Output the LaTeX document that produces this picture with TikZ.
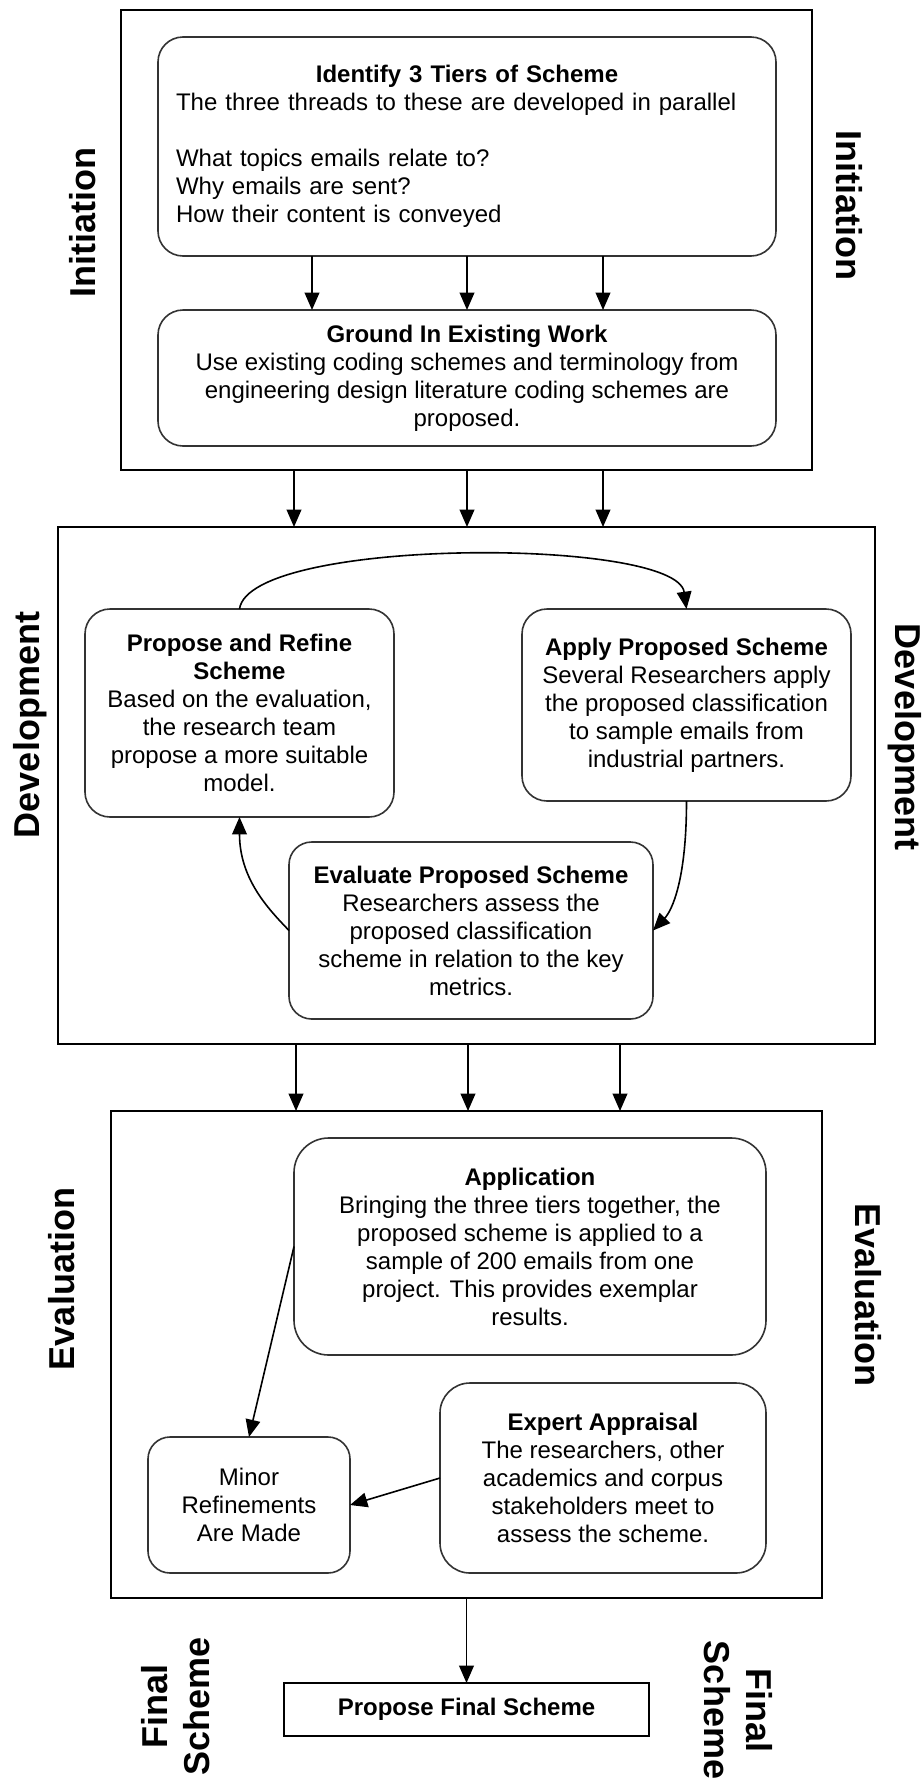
\documentclass[tikz,border=0pt]{standalone}
\usepackage{fontspec}
\setmainfont{Liberation Sans}
\usetikzlibrary{arrows.meta}
\begin{document}
\begin{tikzpicture}[x=0.75pt,y=-0.75pt,
  every node/.style={font=\fontsize{18}{21}\selectfont, inner sep=0pt, outer sep=0pt},
  stage/.style={draw=black, line width=1.5pt, rectangle},
  rbox/.style={draw=black!80, line width=1.2pt, fill=white, rectangle, rounded corners=#1, align=center},
  rbox/.default=18.75pt,
  phase/.style={font=\fontsize{27}{31.5}\selectfont\bfseries, align=center},
  arr/.style={draw=black, line width=1.2pt, -{Triangle[length=13pt,width=11pt]}},
]
\useasboundingbox (0,0) rectangle (924,1778);
\clip (0,0) rectangle (924,1778);

% the three stage frames
\node[stage, minimum width=518.25pt, minimum height=345pt] (init) at (466.5,240) {};
\node[stage, minimum width=612.75pt, minimum height=387.75pt] (dev) at (466.5,785.5) {};
\node[stage, minimum width=533.25pt, minimum height=365.25pt] (eval) at (466.5,1354.5) {};

% Initiation
\node[rbox, minimum width=463.5pt, minimum height=164.25pt, text width=436.5pt, align=left] (identify) at (467,146.5)
  {\makebox[\linewidth][c]{\bfseries Identify 3 Tiers of Scheme}\\
   The three threads to these are developed in parallel\\[21pt]
   What topics emails relate to?\\
   Why emails are sent?\\
   How their content is conveyed};
\node[rbox, minimum width=463.5pt, minimum height=102pt] (ground) at (467,378)
  {\textbf{Ground In Existing Work}\\
   Use existing coding schemes and terminology from\\
   engineering design literature coding schemes are\\
   proposed.};

% Development
\node[rbox, minimum width=231.75pt, minimum height=156pt] (propose) at (239.5,713)
  {\textbf{Propose and Refine}\\
   \textbf{Scheme}\\
   Based on the evaluation,\\
   the research team\\
   propose a more suitable\\
   model.};
\node[rbox, minimum width=246.75pt, minimum height=144pt] (apply) at (686.5,705)
  {\textbf{Apply Proposed Scheme}\\
   Several Researchers apply\\
   the proposed classification\\
   to sample emails from\\
   industrial partners.};
\node[rbox=17pt, minimum width=273pt, minimum height=132.75pt] (evaluate) at (471,930.5)
  {\textbf{Evaluate Proposed Scheme}\\
   Researchers assess the\\
   proposed classification\\
   scheme in relation to the key\\
   metrics.};

% Evaluation
\node[rbox=26pt, minimum width=354pt, minimum height=162.75pt] (application) at (530,1246.5)
  {\textbf{Application}\\
   Bringing the three tiers together, the\\
   proposed scheme is applied to a\\
   sample of 200 emails from one\\
   project. This provides exemplar\\
   results.};
\node[rbox=22.5pt, minimum width=244.5pt, minimum height=142.5pt] (expert) at (603,1478)
  {\textbf{Expert Appraisal}\\
   The researchers, other\\
   academics and corpus\\
   stakeholders meet to\\
   assess the scheme.};
\node[rbox=16.5pt, minimum width=151.5pt, minimum height=102pt] (minor) at (249,1505)
  {Minor\\Refinements\\Are Made};

% Final scheme
\node[draw=black, line width=1.2pt, minimum width=273.75pt, minimum height=39.75pt] (final) at (466.5,1709.5)
  {\textbf{Propose Final Scheme}};

% columns of the hand-over arrows
\coordinate (a1) at (312,0);
\coordinate (a2) at (467,0);
\coordinate (a3) at (603,0);
\coordinate (b1) at (294,0);
\coordinate (b2) at (467,0);
\coordinate (b3) at (603,0);
\coordinate (c1) at (296,0);
\coordinate (c2) at (468,0);
\coordinate (c3) at (620,0);

\foreach \c in {a1,a2,a3} \draw[arr] (identify.south -| \c) -- (ground.north -| \c);
\foreach \c in {b1,b2,b3} \draw[arr] (init.south -| \c) -- (dev.north -| \c);
\foreach \c in {c1,c2,c3} \draw[arr] (dev.south -| \c) -- (eval.north -| \c);

% development cycle
\draw[arr] (propose.north) .. controls +(10,-72) and +(-10,-72) .. (apply.north);
\draw[arr] (apply.south) .. controls +(0,79) and +(19,-20) .. (evaluate.east);
\draw[arr] (evaluate.west) .. controls +(-19,-20) and +(0,63) .. (propose.south);

% evaluation links
\draw[arr] (application.west) -- (minor.north);
\draw[arr] (expert.west) -- (minor.east);
\draw[arr] (eval.south) -- (final.north);

% phase labels
\node[phase, rotate=90] (initL) at (83,223) {Initiation};
\node[phase, rotate=-90] (initR) at (849,205) {Initiation};
\node[phase, rotate=90] (devL) at (30,725) {Development};
\node[phase, rotate=-90] (devR) at (905,737) {Development};
\node[phase, rotate=90] (evalL) at (62,1279) {Evaluation};
\node[phase, rotate=-90] (evalR) at (868,1295) {Evaluation};
\node[phase, rotate=90] (finL) at (176,1706) {Final\\Scheme};
\node[phase, rotate=-90] (finR) at (738,1710) {Final\\Scheme};
\end{tikzpicture}
\end{document}
